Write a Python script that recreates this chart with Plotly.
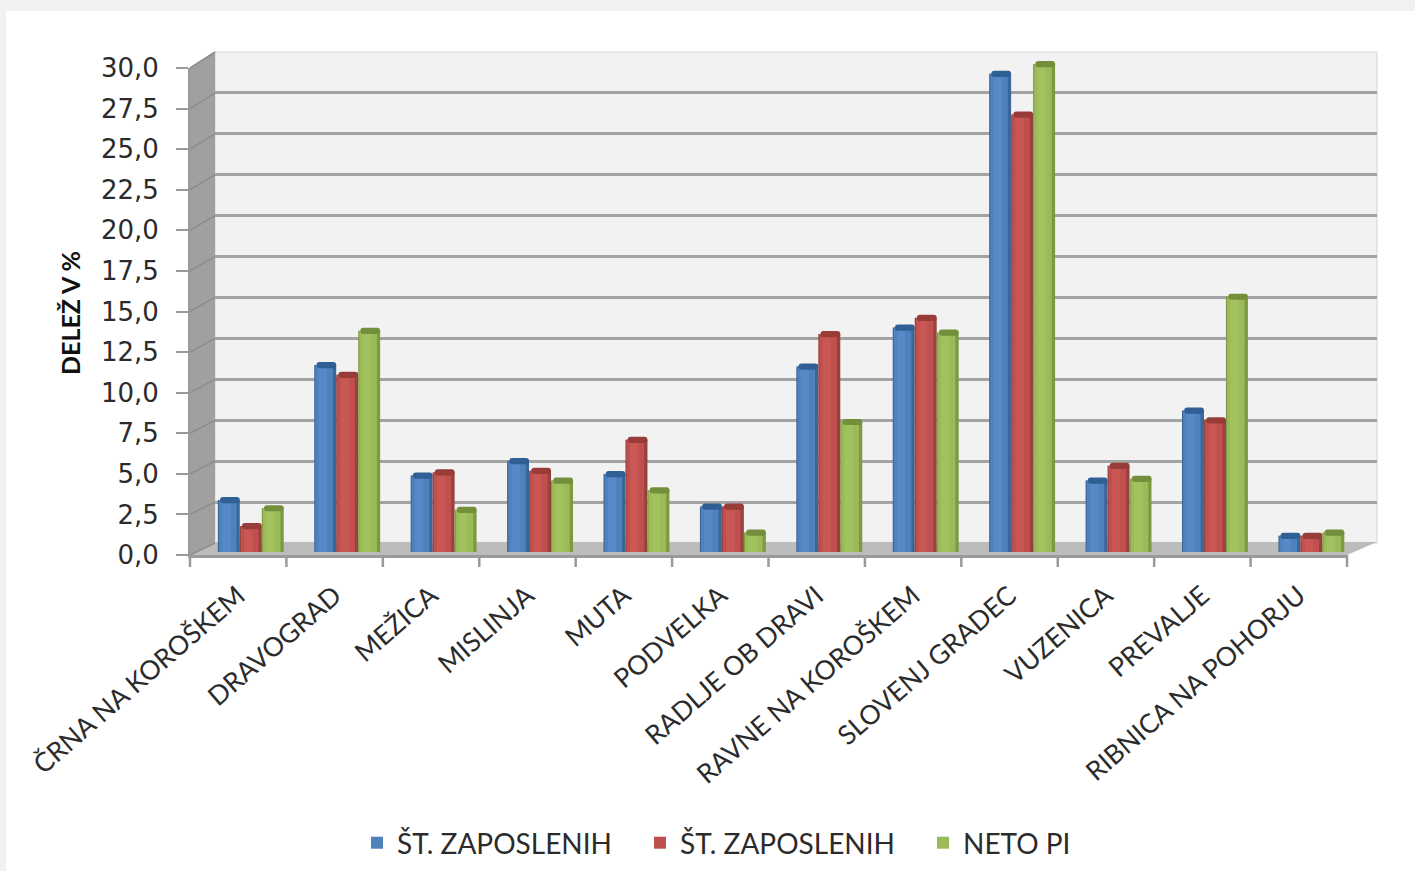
import plotly.graph_objects as go

categories = ["ČRNA NA KOROŠKEM", "DRAVOGRAD", "MEŽICA", "MISLINJA", "MUTA", "PODVELKA",
              "RADLJE OB DRAVI", "RAVNE NA KOROŠKEM", "SLOVENJ GRADEC", "VUZENICA", "PREVALJE",
              "RIBNICA NA POHORJU"]
zaposleni_a = [3.2, 11.5, 4.7, 5.6, 4.8, 2.8, 11.4, 13.8, 29.4, 4.4, 8.7, 1.0]
zaposleni_b = [1.6, 10.9, 4.9, 5.0, 6.9, 2.8, 13.4, 14.4, 26.9, 5.3, 8.1, 1.0]
neto_pi = [2.7, 13.6, 2.6, 4.4, 3.8, 1.2, 8.0, 13.5, 30.0, 4.5, 15.7, 1.2]
series_names = ["ŠT. ZAPOSLENIH", "ŠT. ZAPOSLENIH", "NETO PI"]
y_ticks = [0, 2.5, 5, 7.5, 10, 12.5, 15, 17.5, 20, 22.5, 25, 27.5, 30]
y_labels = ["0,0", "2,5", "5,0", "7,5", "10,0", "12,5", "15,0", "17,5", "20,0", "22,5", "25,0", "27,5", "30,0"]

W, H = 1415, 871
FONT = "Lato"
TEXT = "#2b2b2b"


def X(p):
    return p / W


def Y(p):
    return 1 - p / H


def poly(points, fill, line=None, width=0):
    path = "M " + " L ".join(f"{X(a):.5f},{Y(b):.5f}" for a, b in points) + " Z"
    return dict(type="path", xref="paper", yref="paper", path=path, fillcolor=fill,
                line=dict(color=line or fill, width=width), layer="below")


def seg(a, b, c, d, color, width):
    return dict(type="line", xref="paper", yref="paper", x0=X(a), y0=Y(b), x1=X(c), y1=Y(d),
                line=dict(color=color, width=width), layer="below")


shapes = [
    poly([(0, 0), (W, 0), (W, H), (0, H)], "#f1f1f1"),
    poly([(6, 11), (W, 11), (W, H), (6, H)], "#ffffff"),
    poly([(215, 52), (1377, 52), (1377, 543), (215, 543)], "#f2f2f2", "#d4d4d4", 1),
    poly([(190, 68), (215, 52), (215, 543), (190, 555)], "#a0a0a0"),
    poly([(190, 555), (215, 542), (1377, 542), (1347, 555)], "#bcbcbc"),
]
for i in range(13):
    fy = 555 - i * (555 - 68) / 12
    by = 543 - i * (543 - 52) / 12
    shapes.append(seg(190, fy, 215, by, "#8c8c8c", 1.5))

fig = go.Figure()

# Back wall gridlines and front axes carry the scale; invisible traces keep them alive.
fig.add_trace(go.Bar(x=categories, y=neto_pi, xaxis="x2", yaxis="y2", opacity=0, marker_line_width=0,
                     showlegend=False, hoverinfo="skip"))
fig.add_trace(go.Bar(x=categories, y=neto_pi, xaxis="x", yaxis="y", opacity=0, marker_line_width=0,
                     showlegend=False, hoverinfo="skip"))

BW = 0.228
palette = [("#4f81bd", "#3a6698", "#5689c6", "#2f5f95"),
           ("#c0504d", "#9a403d", "#c95754", "#973c39"),
           ("#9bbb59", "#7d9a42", "#a2c25f", "#748f3b")]
for k, vals in enumerate([zaposleni_a, zaposleni_b, neto_pi]):
    main, dark, light, cap = palette[k]
    off = -0.336 + k * BW
    common = dict(x=categories, xaxis="x3", yaxis="y3", hoverinfo="skip", marker_line_width=0)
    fig.add_trace(go.Bar(y=vals, width=BW, offset=off, marker_color=dark, showlegend=False, **common))
    fig.add_trace(go.Bar(y=vals, width=BW * 0.8, offset=off + BW * 0.05, marker_color=main,
                         name=series_names[k], legendgroup=str(k), showlegend=True, **common))
    fig.add_trace(go.Bar(y=vals, width=BW * 0.38, offset=off + BW * 0.2, marker_color=light,
                         showlegend=False, **common))
    fig.add_trace(go.Bar(y=[0.38] * len(vals), base=[v - 0.2 for v in vals], width=BW * 0.9,
                         offset=off + BW * 0.1, marker_color=cap, marker_cornerradius=4,
                         showlegend=False, **common))

axis_line = "#9a9a9a"
fig.update_layout(
    width=W, height=H, margin=dict(l=0, r=0, t=0, b=0), autosize=False,
    paper_bgcolor="#ffffff", plot_bgcolor="rgba(0,0,0,0)", barmode="overlay",
    shapes=shapes, font=dict(family=FONT, color=TEXT),
    xaxis=dict(domain=[X(190), X(1347)], anchor="y", type="category", range=[-0.5, 11.5],
               categoryorder="array", categoryarray=categories, tickangle=-41,
               tickfont=dict(size=26.5, family=FONT, color=TEXT), showgrid=False, zeroline=False,
               showline=True, linecolor=axis_line, linewidth=2.5, automargin=False,
               ticks="", ticklabelstandoff=12),
    yaxis=dict(domain=[Y(555), Y(68)], anchor="x", range=[0, 30], tickvals=y_ticks, ticktext=y_labels,
               tickfont=dict(size=26, family="DejaVu Sans", color=TEXT), ticks="outside", ticklen=12, tickwidth=2,
               tickcolor=axis_line, showgrid=False, zeroline=False, showline=True, linecolor=axis_line,
               linewidth=2, automargin=False, ticklabelstandoff=12),
    xaxis2=dict(domain=[X(215), X(1377)], anchor="y2", type="category", range=[-0.5, 11.5],
                categoryorder="array", categoryarray=categories, visible=False),
    yaxis2=dict(domain=[Y(543), Y(52)], anchor="x2", range=[0, 30], tickvals=y_ticks, showticklabels=False,
                showgrid=True, gridcolor="#a3a3a3", gridwidth=2.5, zeroline=False, ticks="", showline=False),
    xaxis3=dict(domain=[X(202), X(1359)], anchor="y3", type="category", range=[-0.5, 11.5],
                categoryorder="array", categoryarray=categories, visible=False),
    yaxis3=dict(domain=[Y(552), Y(47.7)], anchor="x3", range=[0, 31], visible=False),
    legend=dict(orientation="h", x=X(357), xanchor="left", y=Y(843), yanchor="middle",
                font=dict(size=28, family=FONT, color=TEXT), bgcolor="rgba(0,0,0,0)",
                entrywidth=238, entrywidthmode="pixels",
                itemclick=False, itemdoubleclick=False, traceorder="normal"),
    annotations=[dict(text="<b>DELEŽ V %</b>", xref="paper", yref="paper", x=X(70), y=Y(313),
                      textangle=-90, showarrow=False, xanchor="center", yanchor="middle",
                      font=dict(size=25, family=FONT, color="#111111"))],
)

# Front-axis category ticks at the cell boundaries
for i in range(13):
    fx = 190 + i * (1347 - 190) / 12
    fig.add_shape(seg(fx, 555, fx, 567, axis_line, 2.5))

fig.write_html("out.html", config={"displayModeBar": False},
               post_script="document.body.style.margin='0';document.body.style.overflow='hidden';")
